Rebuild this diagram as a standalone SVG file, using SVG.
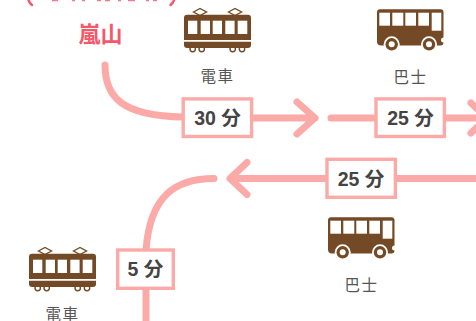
<svg xmlns="http://www.w3.org/2000/svg" width="476" height="321" viewBox="0 0 476 321">
<style>
.c{fill:none;stroke:#fbaaa8;stroke-width:7;stroke-linecap:round;stroke-linejoin:round}
.b{fill:#fff;stroke:#fbaaa8;stroke-width:3.4}
.t{font-family:"Liberation Sans","Noto Sans CJK JP",sans-serif;font-weight:700;font-size:19.5px;fill:#444;text-anchor:middle}
.l{font-family:"Noto Sans CJK JP",sans-serif;font-size:15.5px;letter-spacing:1.5px;fill:#555;text-anchor:middle}
.br{fill:#744a26}
.w{fill:#fff}
.p{fill:#fff;stroke:#744a26;stroke-width:1.4}
</style>
<defs>
<g id="train">
<path class="p" d="M10.500 5L17 1.500L23.500 5L17 8.500ZM45.500 5L52 1.500L58.500 5L52 8.500Z"/>
<circle class="p" cx="9.700" cy="42" r="2.700"/><circle class="p" cx="18.700" cy="42" r="2.700"/><circle class="p" cx="49.700" cy="42" r="2.700"/><circle class="p" cx="59" cy="42" r="2.700"/>
<path class="br" d="M4 7.700H65a3 3 0 0 1 3 3V33H1V10.700a3 3 0 0 1 3-3Z"/>
<rect class="w" x="5" y="13.700" width="9.300" height="13.300"/><rect class="w" x="17.700" y="13.700" width="9.300" height="13.300"/><rect class="w" x="29.700" y="13.700" width="9.300" height="13.300"/><rect class="w" x="42.300" y="13.700" width="9.300" height="13.300"/><rect class="w" x="54.700" y="13.700" width="9.600" height="13.300"/>
<path class="br" d="M1 34.800H68V38a3 3 0 0 1-3 3H4a3 3 0 0 1-3-3Z"/>
</g>
<g id="bus">
<path class="br" d="M3 0.300H63.500a3 3 0 0 1 3 3V28.500a2.500 2.500 0 0 0 0 5a3 3 0 0 1-3 3H4a4 4 0 0 1-4-4V3.300a3 3 0 0 1 3-3Z"/>
<rect class="w" x="2.300" y="3.700" width="10.700" height="13"/><rect class="w" x="15.300" y="3.700" width="11" height="13"/><rect class="w" x="28.300" y="3.700" width="10.700" height="13"/><rect class="w" x="41.300" y="3.700" width="10.700" height="13"/><rect class="w" x="54.700" y="3.700" width="9.600" height="18"/>
<circle class="w" cx="14.700" cy="35.300" r="8"/><circle class="br" cx="14.700" cy="35.300" r="6.200"/><circle class="w" cx="14.700" cy="35.300" r="3"/>
<circle class="w" cx="52" cy="35.300" r="8"/><circle class="br" cx="52" cy="35.300" r="6.200"/><circle class="w" cx="52" cy="35.300" r="3"/>
</g>
</defs>
<g id="connectors">
<path class="c" d="M105 65C105 97 122 116 183 117"/>
<path class="c" d="M252 118H315M297 102L315 118L297 134"/>
<path class="c" d="M331 118H476M471 103L487 118L471 133"/>
<path class="c" d="M476 178.500H232M247 162.500L230 178.500L247 194.500"/>
<path class="c" d="M214 178.500C175 178.500 150 196 146 250V321"/>
</g>
<g id="start">
<path d="M28.500 0Q29.500 3 32 5M174 0Q173 3 170.500 5" fill="none" stroke="#f4586a" stroke-width="2.400" stroke-linecap="round"/>
<path d="M52 0H58M72 0H75M82 0H85M97 0H101M105 0H110M118 0H121M128 0H135M146 0H149M153 0H157" fill="none" stroke="#f4586a" stroke-width="2.400" opacity=".8"/>
<text x="100.500" y="41.500" font-family="'Noto Sans CJK JP',sans-serif" font-weight="700" font-size="22" fill="#f4586a" text-anchor="middle">嵐山</text>
</g>
<g id="train1"><use href="#train" x="183" y="7"/><text class="l" x="217.500" y="82">電車</text></g>
<g id="bus1"><use href="#bus" x="377" y="9"/><text class="l" x="410.500" y="83">巴士</text></g>
<g id="bus2"><use href="#bus" x="328" y="217"/><text class="l" x="361.500" y="291">巴士</text></g>
<g id="train2"><use href="#train" x="28" y="246"/><text class="l" x="62.500" y="320">電車</text></g>
<g id="t1"><rect class="b" x="183.200" y="98.900" width="68.400" height="37.600"/><text class="t" x="217.500" y="125">30 分</text></g>
<g id="t2"><rect class="b" x="376" y="98.900" width="68.400" height="37.600"/><text class="t" x="410.500" y="125">25 分</text></g>
<g id="t3"><rect class="b" x="327" y="159.300" width="68.400" height="38"/><text class="t" x="361" y="185.500">25 分</text></g>
<g id="t4"><rect class="b" x="117.700" y="250" width="55.600" height="38.300"/><text class="t" x="145.500" y="276">5 分</text></g>
</svg>
